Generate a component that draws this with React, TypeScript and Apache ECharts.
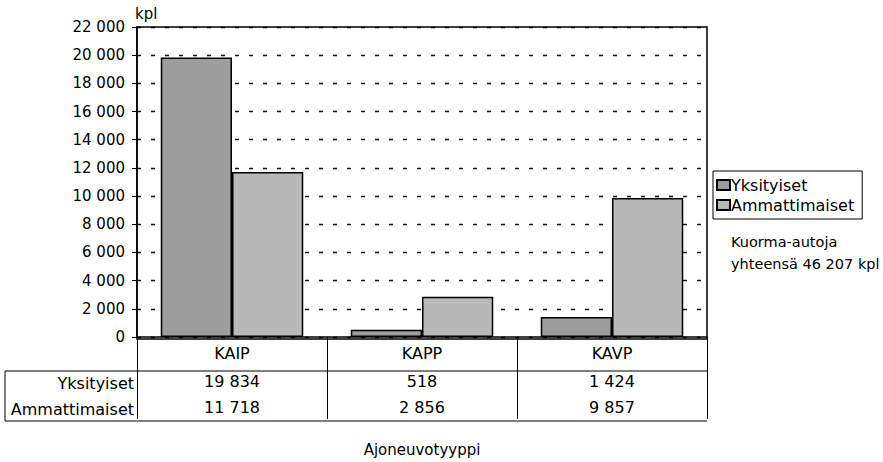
import React, { useEffect, useRef } from "react";
import * as echarts from "echarts";

const categories = ["KAIP", "KAPP", "KAVP"];
const seriesNames = ["Yksityiset", "Ammattimaiset"];
const yksityiset = [19834, 518, 1424];
const ammattimaiset = [11718, 2856, 9857];
const yTicks = { min: 0, max: 22000, interval: 2000 };
const axisTitle = "Ajoneuvotyyppi";
const unitLabel = "kpl";
const noteLine1 = "Kuorma-autoja";

const FONT = "DejaVu Sans";
const fmt = (n: number) => String(n).replace(/\B(?=(\d{3})+(?!\d))/g, " ");

export default function App() {
  const ref = useRef<HTMLDivElement>(null);
  useEffect(() => {
    if (!ref.current) return;
    const chart = echarts.init(ref.current, undefined, { renderer: "svg" });
    const total = [...yksityiset, ...ammattimaiset].reduce((a, b) => a + b, 0);
    const gl = 137, gt = 27, gw = 570, gh = 312;
    const gb = gt + gh;
    const txt = { fontFamily: FONT, fontSize: 15, color: "#000" };
    const tbl = { fontFamily: FONT, fontSize: 16, color: "#000" };
    chart.setOption({
      animation: false,
      backgroundColor: "#fff",
      textStyle: { fontFamily: FONT },
      grid: { left: gl, top: gt, width: gw, height: gh },
      legend: {
        orient: "vertical",
        left: 713,
        top: 171,
        padding: [6, 8, 6, 3],
        itemGap: 4,
        itemWidth: 13,
        itemHeight: 10,
        icon: "rect",
        borderColor: "#000",
        borderWidth: 1,
        textStyle: { ...tbl, padding: [0, 0, 0, -4] },
        data: seriesNames,
      },
      xAxis: [
        {
          type: "category",
          data: categories,
          position: "bottom",
          axisLine: { show: true, lineStyle: { color: "#000", width: 1.5 } },
          axisTick: { show: true, length: 82, interval: 0, lineStyle: { color: "#000", width: 1 } },
          axisLabel: { ...tbl, margin: 8 },
          name: axisTitle,
          nameLocation: "middle",
          nameGap: 105,
          nameTextStyle: { ...txt },
        },
        {
          type: "category",
          data: yksityiset.map(fmt),
          position: "bottom",
          offset: 36,
          axisLine: { show: false },
          axisTick: { show: false },
          axisLabel: { ...tbl, margin: 0 },
        },
        {
          type: "category",
          data: ammattimaiset.map(fmt),
          position: "bottom",
          offset: 62,
          axisLine: { show: false },
          axisTick: { show: false },
          axisLabel: { ...tbl, margin: 0 },
        },
      ],
      yAxis: {
        type: "value",
        min: yTicks.min,
        max: yTicks.max,
        interval: yTicks.interval,
        name: unitLabel,
        nameLocation: "end",
        nameGap: 6,
        nameTextStyle: { ...txt, align: "left", padding: [0, 0, 0, -2] },
        axisLine: { show: true, lineStyle: { color: "#000", width: 1.5 } },
        axisTick: { show: true, length: 5, lineStyle: { color: "#000" } },
        axisLabel: { ...txt, margin: 12, formatter: (v: number) => fmt(v) },
        splitLine: { show: true, lineStyle: { color: "#111", type: [4, 10], width: 1.4 } },
      },
      series: [
        {
          name: seriesNames[0],
          type: "bar",
          data: yksityiset,
          barGap: "0%",
          barCategoryGap: "25%",
          itemStyle: { color: "#9d9d9d", borderColor: "#000", borderWidth: 1.5 },
        },
        {
          name: seriesNames[1],
          type: "bar",
          data: ammattimaiset,
          barGap: "0%",
          barCategoryGap: "25%",
          itemStyle: { color: "#b9b9b9", borderColor: "#000", borderWidth: 1.5 },
        },
      ],
      graphic: [
        { type: "rect", shape: { x: gl, y: gt, width: gw, height: gh }, style: { fill: "none", stroke: "#000", lineWidth: 1.5 }, z: 100 },
        { type: "line", shape: { x1: 5, y1: gb + 32, x2: gl + gw, y2: gb + 32 }, style: { stroke: "#000", lineWidth: 1 } },
        { type: "line", shape: { x1: 5, y1: gb + 82, x2: gl + gw, y2: gb + 82 }, style: { stroke: "#000", lineWidth: 1 } },
        { type: "line", shape: { x1: 5, y1: gb + 32, x2: 5, y2: gb + 82 }, style: { stroke: "#000", lineWidth: 1 } },
        { type: "text", x: gl - 3, y: gb + 44, style: { text: seriesNames[0], font: `16px "${FONT}"`, fill: "#000", textAlign: "right", textVerticalAlign: "middle" } },
        { type: "text", x: gl - 3, y: gb + 70, style: { text: seriesNames[1], font: `16px "${FONT}"`, fill: "#000", textAlign: "right", textVerticalAlign: "middle" } },
        { type: "text", x: 731, y: 231, style: { text: noteLine1 + "\nyhteensä " + fmt(total) + " " + unitLabel, font: `14.5px "${FONT}"`, fill: "#000", lineHeight: 22 } },
      ],
    });
    return () => chart.dispose();
  }, []);
  return <div ref={ref} style={{ position: "fixed", left: 0, top: 0, width: 883, height: 462 }} />;
}
